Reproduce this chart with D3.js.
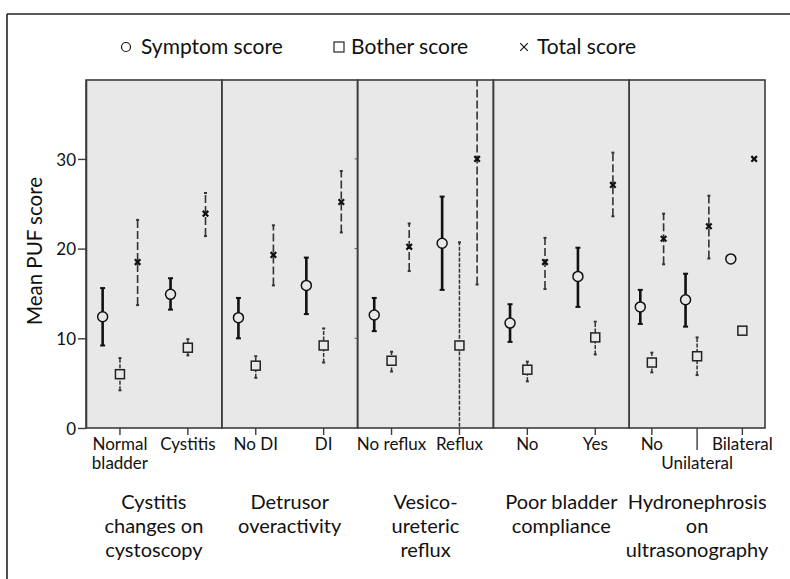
<!DOCTYPE html>
<html><head><meta charset="utf-8">
<script src="https://cdn.jsdelivr.net/npm/d3@7"></script>
<style>
html,body{margin:0;padding:0;background:#fff;}
text{font-family:Lato,"Open Sans",sans-serif;fill:#111;}
</style></head>
<body>
<script>
// ---- data ----
const groups = ["Cystitis changes on cystoscopy","Detrusor overactivity","Vesico-ureteric reflux","Poor bladder compliance","Hydronephrosis on ultrasonography"];
const groupLines = [["Cystitis","changes on","cystoscopy"],["Detrusor","overactivity"],["Vesico-","ureteric","reflux"],["Poor bladder","compliance"],["Hydronephrosis","on","ultrasonography"]];
const categories = ["Normal bladder","Cystitis","No DI","DI","No reflux","Reflux","No","Yes","No","Unilateral","Bilateral"];
const categoryGroup = [0,0,1,1,2,2,3,3,4,4,4];
const categoryLabelLines = [["Normal","bladder"],["Cystitis"],["No DI"],["DI"],["No reflux"],["Reflux"],["No"],["Yes"],["No"],["","Unilateral"],["Bilateral"]];
const seriesNames = ["Symptom score","Bother score","Total score"];
const symptomMean = [12.4,14.9,12.3,15.9,12.6,20.6,11.7,16.9,13.5,14.3,18.85];
const symptomLo   = [9.2,13.2,10.0,12.7,10.8,15.4,9.6,13.5,11.6,11.3,null];
const symptomHi   = [15.6,16.7,14.5,19.0,14.5,25.8,13.8,20.1,15.4,17.2,null];
const botherMean  = [6.0,8.95,6.95,9.2,7.5,9.2,6.5,10.1,7.3,8.0,10.85];
const botherLo    = [4.2,8.1,5.6,7.3,6.3,-2.3,5.2,8.2,6.2,5.9,null];
const botherHi    = [7.8,9.9,8.0,11.1,8.5,20.7,7.4,11.85,8.4,10.1,null];
const totalMean   = [18.5,23.9,19.3,25.2,20.2,30.0,18.5,27.1,21.1,22.5,30.0];
const totalLo     = [13.7,21.4,15.9,21.8,17.5,16.0,15.5,23.6,18.25,18.9,null];
const totalHi     = [23.2,26.2,22.6,28.65,22.8,44.0,21.2,30.7,23.9,25.9,null];
const yTicks = [0,10,20,30];
const yLabel = "Mean PUF score";

// ---- layout ----
const W = 790, H = 579;
const svg = d3.select("body").append("svg").attr("width",W).attr("height",H);
const plotL = 86, plotR = 765, plotT = 80, plotB = 428;
const panelFill = "#e8e8e8";

// outer frame (left and top visible)
svg.append("line").attr("x1",7).attr("x2",7).attr("y1",14).attr("y2",H).attr("stroke","#222").attr("stroke-width",1.6);
svg.append("line").attr("x1",7).attr("x2",W).attr("y1",14).attr("y2",14).attr("stroke","#222").attr("stroke-width",1.6);

const y = d3.scaleLinear().domain([0,38.8]).range([plotB,plotT]);
const xg = d3.scaleBand().domain(d3.range(groups.length)).range([plotL,plotR]).padding(0);

svg.append("defs").append("clipPath").attr("id","clip")
  .append("rect").attr("x",plotL).attr("y",plotT).attr("width",plotR-plotL).attr("height",plotB-plotT);

// panels
groups.forEach((g,gi)=>{
  svg.append("rect").attr("x",xg(gi)).attr("y",plotT).attr("width",xg.bandwidth()).attr("height",plotB-plotT)
    .attr("fill",panelFill);
});
groups.forEach((g,gi)=>{
  svg.append("rect").attr("x",xg(gi)).attr("y",plotT).attr("width",xg.bandwidth()).attr("height",plotB-plotT)
    .attr("fill","none").attr("stroke","#3c3c3c").attr("stroke-width",1.6);
});

// inner scales
const inner = groups.map((g,gi)=>{
  const idx = categories.map((c,i)=>i).filter(i=>categoryGroup[i]===gi);
  return d3.scaleBand().domain(idx).range([xg(gi), xg(gi)+xg.bandwidth()]).padding(0);
});
const cx = i => { const s = inner[categoryGroup[i]]; return s(i)+s.bandwidth()/2; };
const off = (i,k) => inner[categoryGroup[i]].bandwidth()*[-0.255,0,0.26][k];

// y axis
const yAxis = d3.axisLeft(y).tickValues(yTicks).tickSize(8).tickSizeOuter(0).tickPadding(2).tickFormat(d3.format("d"));
const ya = svg.append("g").attr("transform",`translate(${plotL},0)`).call(yAxis);
ya.select(".domain").attr("stroke","#3c3c3c").attr("stroke-width",1.6);
ya.selectAll(".tick line").attr("stroke","#3c3c3c").attr("stroke-width",1.4);
ya.selectAll(".tick text").style("font-size","17px").attr("fill","#111").attr("dy","0.36em");
// small residual ticks on panel boundary
svg.append("g").selectAll("line").data(yTicks.filter(d=>d>0)).join("line")
  .attr("x1",xg(2)-3).attr("x2",xg(2)).attr("y1",d=>y(d)).attr("y2",d=>y(d))
  .attr("stroke","#555").attr("stroke-width",1);

svg.append("text").attr("transform",`translate(42,251) rotate(-90)`)
  .attr("text-anchor","middle").style("font-size","20.5px").text(yLabel);

// bottom ticks + labels
categories.forEach((c,i)=>{
  const x = cx(i);
  const long = categoryLabelLines[i][0]==="";
  svg.append("line").attr("x1",x).attr("x2",x).attr("y1",plotB).attr("y2",plotB+(long?22:7))
    .attr("stroke","#3c3c3c").attr("stroke-width",1.4);
  const t = svg.append("text").attr("text-anchor","middle").style("font-size","17px");
  categoryLabelLines[i].forEach((ln,li)=>{
    t.append("tspan").attr("x",x).attr("y",450+li*19).text(ln);
  });
});

// group titles
groupLines.forEach((lines,gi)=>{
  const x = xg(gi)+xg.bandwidth()/2;
  const t = svg.append("text").attr("text-anchor","middle").style("font-size","20px");
  lines.forEach((ln,li)=>t.append("tspan").attr("x",x).attr("y",509+li*24).text(ln));
});

// error bars and markers
const plot = svg.append("g").attr("clip-path","url(#clip)");
const series = [
  {mean:symptomMean, lo:symptomLo, hi:symptomHi, stroke:"#111", sw:2.6, dash:null, cap:5},
  {mean:botherMean, lo:botherLo, hi:botherHi, stroke:"#333", sw:1.5, dash:"4,1.5", cap:3},
  {mean:totalMean, lo:totalLo, hi:totalHi, stroke:"#333", sw:1.6, dash:"8,3", cap:3}
];
series.forEach((s,k)=>{
  categories.forEach((c,i)=>{
    const x = cx(i)+off(i,k);
    if(s.lo[i]!=null){
      plot.append("line").attr("x1",x).attr("x2",x).attr("y1",y(s.lo[i])).attr("y2",y(s.hi[i]))
        .attr("stroke",s.stroke).attr("stroke-width",s.sw).attr("stroke-dasharray",s.dash);
      [s.lo[i],s.hi[i]].forEach(v=>{
        plot.append("line").attr("x1",x-s.cap/2).attr("x2",x+s.cap/2).attr("y1",y(v)).attr("y2",y(v))
          .attr("stroke",s.stroke).attr("stroke-width",2);
      });
    }
    const yy = y(s.mean[i]);
    if(k===0){
      plot.append("circle").attr("cx",x).attr("cy",yy).attr("r",5).attr("fill",panelFill).attr("stroke","#111").attr("stroke-width",1.5);
    } else if(k===1){
      plot.append("rect").attr("x",x-4.5).attr("y",yy-4.5).attr("width",9).attr("height",9).attr("fill",panelFill).attr("stroke","#222").attr("stroke-width",1.5);
    } else {
      plot.append("path").attr("d",d3.symbol(d3.symbolX,22)()).attr("transform",`translate(${x},${yy})`)
        .attr("stroke","#111").attr("stroke-width",2.2).attr("fill","none");
    }
  });
});

// legend
const leg = [
  {x:126, tx:141, name:seriesNames[0]},
  {x:339, tx:351, name:seriesNames[1]},
  {x:524, tx:537, name:seriesNames[2]}
];
const ly = 47;
svg.append("circle").attr("cx",leg[0].x).attr("cy",ly).attr("r",4.5).attr("fill","none").attr("stroke","#111").attr("stroke-width",1.2);
svg.append("rect").attr("x",leg[1].x-5).attr("y",ly-5).attr("width",10).attr("height",10).attr("fill","none").attr("stroke","#111").attr("stroke-width",1.1);
svg.append("path").attr("d",d3.symbol(d3.symbolX,40)()).attr("transform",`translate(${leg[2].x},${ly})`).attr("stroke","#111").attr("stroke-width",1.1);
leg.forEach(l=>{
  svg.append("text").attr("x",l.tx).attr("y",ly+7).style("font-size","21px").text(l.name);
});
</script>
</body></html>
